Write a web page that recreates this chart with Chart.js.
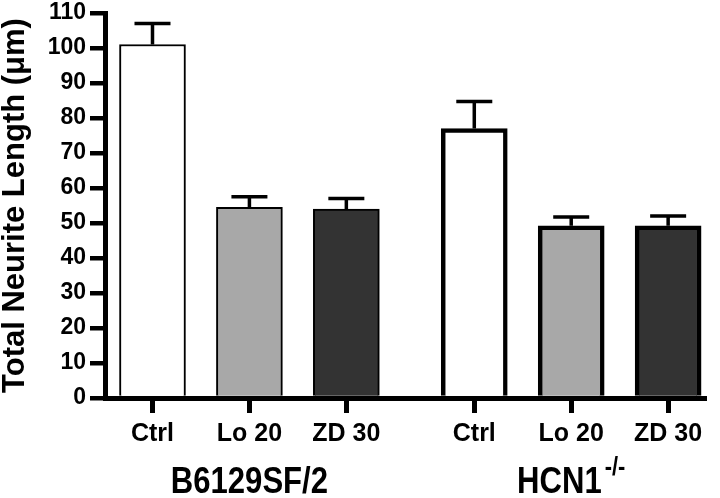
<!DOCTYPE html>
<html>
<head>
<meta charset="utf-8">
<script src="https://cdn.jsdelivr.net/npm/chart.js@4.4.1/dist/chart.umd.min.js"></script>
<style>
    html, body { margin: 0; padding: 0; background: #fff; }
    #wrap { width: 720px; height: 498px; }
</style>
</head>
<body>
<div id="wrap"><canvas id="neuriteChart" width="720" height="498"></canvas></div>
<script>
const treatments = ["Ctrl", "Lo 20", "ZD 30"];
const groupNames = ["B6129SF/2", "HCN1"];
const groupSupers = ["", "-/-"];
const wildTypeMean = [101, 54.5, 54];
const wildTypeSem = [6, 3, 3];
const knockoutMean = [77, 49.2, 49.2];
const knockoutSem = [7.7, 2.5, 2.8];
const yTickValues = [0, 10, 20, 30, 40, 50, 60, 70, 80, 90, 100, 110];

const barColors = ["#ffffff", "#a8a8a8", "#333333"];
const fontFamily = "'Liberation Sans', Arial, Helvetica, sans-serif";
const groupGap = 0.32; // extra room between the two genotypes

// Build bar positions from group / treatment index
const means = [...wildTypeMean, ...knockoutMean];
const sems = [...wildTypeSem, ...knockoutSem];
const xPositions = [];
const xLabels = [];
[0, 1].forEach(g => {
    treatments.forEach((t, i) => {
        xPositions.push(1 + g * (treatments.length + groupGap) + i);
        xLabels.push(t);
    });
});
const points = xPositions.map((x, i) => ({ x: x, y: means[i] }));

// Error bars (mean + SEM) drawn through the y scale
const errorBarPlugin = {
    id: "errorBars",
    afterDatasetsDraw(chart) {
        const { ctx, scales: { y } } = chart;
        const meta = chart.getDatasetMeta(0);
        ctx.save();
        ctx.strokeStyle = "#000";
        ctx.lineWidth = 3.5;
        meta.data.forEach((bar, i) => {
            const top = y.getPixelForValue(means[i] + sems[i]);
            ctx.beginPath();
            ctx.moveTo(bar.x, bar.y);
            ctx.lineTo(bar.x, top);
            ctx.moveTo(bar.x - 18, top);
            ctx.lineTo(bar.x + 18, top);
            ctx.stroke();
        });
        ctx.restore();
    }
};

// Genotype labels under the tick labels (squeezed a bit, like a narrow face)
const groupLabelPlugin = {
    id: "groupLabels",
    afterDraw(chart) {
        const { ctx, scales: { x } } = chart;
        const squeeze = 0.84;
        ctx.save();
        ctx.fillStyle = "#000";
        ctx.textBaseline = "alphabetic";
        ctx.textAlign = "left";
        groupNames.forEach((name, g) => {
            const cx = x.getPixelForValue(2 + g * (treatments.length + groupGap));
            ctx.font = "bold 37px " + fontFamily;
            const w1 = ctx.measureText(name).width * squeeze;
            let w2 = 0;
            if (groupSupers[g]) {
                ctx.font = "bold 26px " + fontFamily;
                w2 = ctx.measureText(groupSupers[g]).width * squeeze + 3;
            }
            const start = cx - (w1 + w2) / 2;
            ctx.save();
            ctx.translate(start, 493);
            ctx.scale(squeeze, 1);
            ctx.font = "bold 37px " + fontFamily;
            ctx.fillText(name, 0, 0);
            ctx.restore();
            if (groupSupers[g]) {
                ctx.save();
                ctx.translate(start + w1 + 3, 475);
                ctx.scale(squeeze, 1);
                ctx.font = "bold 26px " + fontFamily;
                ctx.fillText(groupSupers[g], 0, 0);
                ctx.restore();
            }
        });
        ctx.restore();
    }
};

new Chart(document.getElementById("neuriteChart"), {
    type: "bar",
    data: {
        datasets: [{
            data: points,
            backgroundColor: [...barColors, ...barColors],
            borderColor: "#000",
            borderWidth: [2, 2, 2, 4.5, 4.5, 4.5],
            barThickness: 66
        }]
    },
    options: {
        responsive: false,
        animation: false,
        layout: { padding: { top: 13, right: 16, left: 0, bottom: 0 } },
        plugins: {
            legend: { display: false },
            tooltip: { enabled: false }
        },
        scales: {
            x: {
                type: "linear",
                min: 0.51,
                max: 6.69,
                offset: false,
                z: 1,
                afterBuildTicks: scale => {
                    scale.ticks = xPositions.map(v => ({ value: v }));
                },
                afterFit: scale => {
                    scale.height = 100;
                    scale.paddingLeft = 0;
                    scale.paddingRight = 0;
                },
                grid: { offset: false, drawOnChartArea: false, drawTicks: true, tickLength: 15, lineWidth: 5, color: "#000" },
                border: { width: 5, color: "#000" },
                ticks: {
                    callback: (value, index) => xLabels[index],
                    font: { family: fontFamily, size: 25, weight: "bold" },
                    color: "#000",
                    padding: 6,
                    maxRotation: 0,
                    autoSkip: false
                }
            },
            y: {
                min: 0,
                max: 110,
                afterBuildTicks: scale => {
                    scale.ticks = yTickValues.map(v => ({ value: v }));
                },
                afterFit: scale => {
                    scale.width = 105;
                    scale.paddingTop = 0;
                    scale.paddingBottom = 0;
                },
                grid: { drawOnChartArea: false, drawTicks: true, tickLength: 15, lineWidth: 4.5, color: "#000" },
                border: { width: 5, color: "#000" },
                ticks: {
                    font: { family: fontFamily, size: 23, weight: "bold" },
                    color: "#000",
                    padding: 4
                },
                title: {
                    display: true,
                    text: "Total Neurite Length (μm)",
                    color: "#000",
                    padding: 0,
                    font: { family: fontFamily, size: 31, weight: "bold", lineHeight: 1.0 }
                }
            }
        }
    },
    plugins: [errorBarPlugin, groupLabelPlugin]
});
</script>
</body>
</html>
